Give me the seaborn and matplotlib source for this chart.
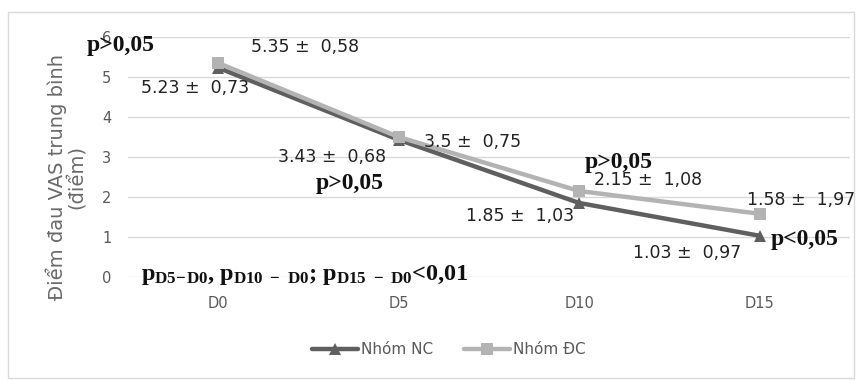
import numpy as np
import pandas as pd
import seaborn as sns
import matplotlib.pyplot as plt
from matplotlib.patches import Rectangle

# data
days = ["D0", "D5", "D10", "D15"]
nc_mean = [5.23, 3.43, 1.85, 1.03]
nc_sd = ["0,73", "0,68", "1,03", "0,97"]
dc_mean = [5.35, 3.5, 2.15, 1.58]
dc_sd = ["0,58", "0,75", "1,08", "1,97"]
groups = ["Nhóm NC", "Nhóm ĐC"]

df = pd.DataFrame({
    "day": days * 2,
    "vas": nc_mean + dc_mean,
    "group": [groups[0]] * 4 + [groups[1]] * 4,
})

sns.set_style("white")
plt.rcParams["font.family"] = ["DejaVu Sans"]
plt.rcParams["mathtext.fontset"] = "custom"
plt.rcParams["mathtext.rm"] = "Liberation Serif:bold"
plt.rcParams["mathtext.bf"] = "Liberation Serif:bold"
plt.rcParams["mathtext.it"] = "Liberation Serif:bold"

fig = plt.figure(figsize=(8.63, 3.81), dpi=100)
ax = fig.add_axes([128 / 863, 1 - 277 / 381, 722 / 863, 240 / 381])

pal = {groups[0]: "#5f5f5f", groups[1]: "#b3b3b3"}
sns.lineplot(data=df, x="day", y="vas", hue="group", style="group",
             markers={groups[0]: "^", groups[1]: "s"}, dashes=False,
             palette=pal, linewidth=3.2, markersize=9, markeredgewidth=0,
             sort=False, ax=ax, legend=True)

ax.set_xlim(-0.5, 3.5)
ax.set_ylim(0, 6)
ax.set_yticks(range(7))
ax.grid(axis="y", color="#d9d9d9", linewidth=1)
ax.set_axisbelow(True)
for s in ax.spines.values():
    s.set_visible(False)
ax.tick_params(axis="x", colors="#595959", labelsize=10.5, length=0, pad=14)
ax.tick_params(axis="y", colors="#595959", labelsize=10.5, length=0, pad=12)
ax.set_xlabel("")
ax.set_ylabel("")

fig.text(66 / 863, 1 - 177 / 381, "Điểm đau VAS trung bình\n(điểm)",
         rotation=90, ha="center", va="center", fontsize=14,
         color="#6a6a6a", multialignment="center", linespacing=1.0)

# value labels (x in category units, y in data units)
lab = dict(fontsize=12.5, color="#222222", ha="center", va="center")
nc_pos = [(-0.13, 4.72), (0.63, 3.0), (1.67, 1.53), (2.6, 0.6)]
dc_pos = [(0.48, 5.75), (1.41, 3.37), (2.38, 2.43), (3.23, 1.93)]
for i in range(4):
    ax.text(nc_pos[i][0], nc_pos[i][1], f"{nc_mean[i]} ±  {nc_sd[i]}", **lab)
    ax.text(dc_pos[i][0], dc_pos[i][1], f"{dc_mean[i]} ±  {dc_sd[i]}", **lab)

pb = dict(fontsize=17, fontweight="bold", family="Liberation Serif",
          color="#111111", ha="center", va="center")
ax.text(-0.54, 5.8, "p>0,05", **pb)
ax.text(0.73, 2.33, "p>0,05", **pb)
ax.text(2.22, 2.87, "p>0,05", **pb)
ax.text(3.25, 0.93, "p<0,05", **pb)
ax.text(-0.43, 0.05,
        r"$\mathrm{p_{D5\!-\!D0}}$, $\mathrm{p_{D10\ -\ D0}}$; $\mathrm{p_{D15\ -\ D0}}$<0,01",
        fontsize=17.5, fontweight="bold", family="Liberation Serif",
        color="#111111", ha="left", va="center")

handles, labels = ax.get_legend_handles_labels()
ax.get_legend().remove()
fig.legend(handles, labels, loc="center", bbox_to_anchor=(0.52, 1 - 350 / 381),
           ncol=2, frameon=False, fontsize=11, labelcolor="#595959",
           handlelength=3, handletextpad=0.2, columnspacing=2)

fig.add_artist(Rectangle((8 / 863, 3 / 381), 846 / 863, 366 / 381,
                         transform=fig.transFigure, fill=False,
                         edgecolor="#d9d9d9", linewidth=1))

fig.savefig("out.png", dpi=100)
